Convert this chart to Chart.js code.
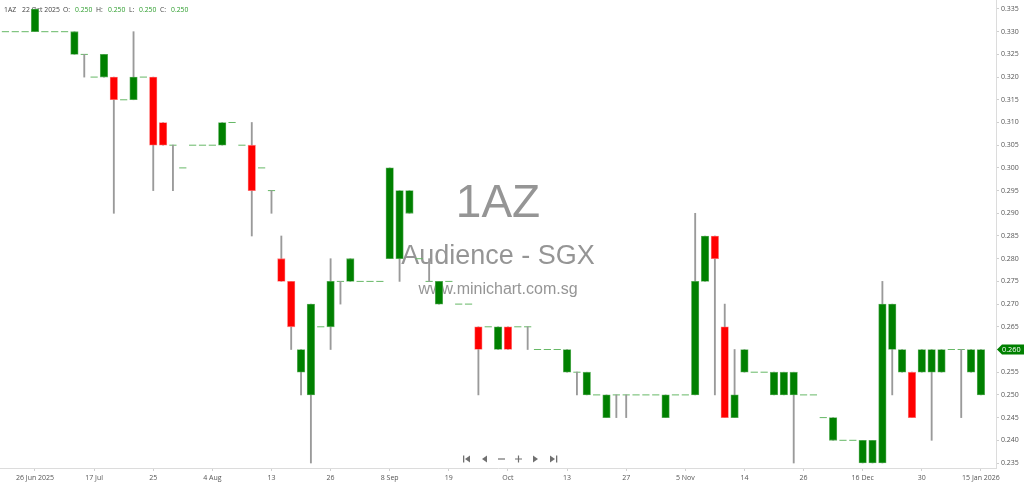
<!DOCTYPE html>
<html><head><meta charset="utf-8">
<script src="https://cdn.jsdelivr.net/npm/chart.js@4.4.1/dist/chart.umd.min.js"></script>
<style>html,body{margin:0;padding:0;background:#fff;overflow:hidden}#wrap{position:relative;width:1024px;height:484px}</style>
</head><body><div id="wrap"><canvas id="c"></canvas></div>
<script>
const symbol = '1AZ';
const company = 'Audience - SGX';
const site = 'www.minichart.com.sg';
const headerDate = '22 Oct 2025';
const headerOHLC = [0.250, 0.250, 0.250, 0.250];

const opens = [
0.330,0.330,0.330,0.330,0.330,0.330,0.330,0.325,0.325,0.320,
0.320,0.320,0.315,0.315,0.320,0.320,0.310,0.305,0.300,0.305,
0.305,0.305,0.305,0.310,0.305,0.305,0.300,0.295,0.280,0.275,
0.255,0.250,0.265,0.265,0.275,0.275,0.275,0.275,0.275,0.280,
0.280,0.290,0.280,0.275,0.270,0.275,0.270,0.270,0.265,0.265,
0.260,0.265,0.265,0.265,0.260,0.260,0.260,0.255,0.255,0.250,
0.250,0.245,0.250,0.250,0.250,0.250,0.250,0.245,0.250,0.250,
0.250,0.275,0.285,0.265,0.245,0.255,0.255,0.255,0.250,0.250,
0.250,0.250,0.250,0.245,0.240,0.240,0.240,0.235,0.235,0.235,
0.260,0.255,0.255,0.255,0.255,0.255,0.260,0.260,0.255,0.250];
const highs = [
0.330,0.330,0.330,0.335,0.330,0.330,0.330,0.330,0.325,0.320,
0.325,0.320,0.315,0.330,0.320,0.320,0.310,0.305,0.300,0.305,
0.305,0.305,0.310,0.310,0.305,0.310,0.300,0.295,0.285,0.275,
0.260,0.270,0.265,0.280,0.275,0.280,0.275,0.275,0.275,0.300,
0.295,0.295,0.280,0.280,0.275,0.275,0.270,0.270,0.265,0.265,
0.265,0.265,0.265,0.265,0.260,0.260,0.260,0.260,0.255,0.255,
0.250,0.250,0.250,0.250,0.250,0.250,0.250,0.250,0.250,0.250,
0.290,0.285,0.285,0.270,0.260,0.260,0.255,0.255,0.255,0.255,
0.255,0.250,0.250,0.245,0.245,0.240,0.240,0.240,0.240,0.275,
0.270,0.260,0.255,0.260,0.260,0.260,0.260,0.260,0.260,0.260];
const lows = [
0.330,0.330,0.330,0.330,0.330,0.330,0.330,0.325,0.320,0.320,
0.320,0.290,0.315,0.315,0.320,0.295,0.305,0.295,0.300,0.305,
0.305,0.305,0.305,0.310,0.305,0.285,0.300,0.290,0.275,0.260,
0.250,0.235,0.265,0.260,0.270,0.275,0.275,0.275,0.275,0.280,
0.275,0.290,0.280,0.275,0.270,0.275,0.270,0.270,0.250,0.265,
0.260,0.260,0.265,0.260,0.260,0.260,0.260,0.255,0.250,0.250,
0.250,0.245,0.245,0.245,0.250,0.250,0.250,0.245,0.250,0.250,
0.250,0.275,0.250,0.245,0.245,0.255,0.255,0.255,0.250,0.250,
0.235,0.250,0.250,0.245,0.240,0.240,0.240,0.235,0.235,0.235,
0.250,0.255,0.245,0.255,0.240,0.255,0.260,0.245,0.255,0.250];
const closes = [
0.330,0.330,0.330,0.335,0.330,0.330,0.330,0.330,0.325,0.320,
0.325,0.315,0.315,0.320,0.320,0.305,0.305,0.305,0.300,0.305,
0.305,0.305,0.310,0.310,0.305,0.295,0.300,0.295,0.275,0.265,
0.260,0.270,0.265,0.275,0.275,0.280,0.275,0.275,0.275,0.300,
0.295,0.295,0.280,0.275,0.275,0.275,0.270,0.270,0.260,0.265,
0.265,0.260,0.265,0.265,0.260,0.260,0.260,0.260,0.255,0.255,
0.250,0.250,0.250,0.250,0.250,0.250,0.250,0.250,0.250,0.250,
0.275,0.285,0.280,0.245,0.250,0.260,0.255,0.255,0.255,0.255,
0.255,0.250,0.250,0.245,0.245,0.240,0.240,0.240,0.240,0.270,
0.270,0.260,0.245,0.260,0.260,0.260,0.260,0.260,0.260,0.260];

const xTickIndex = [3,9,15,21,27,33,39,45,51,57,63,69,75,81,87,93,99];
const xTickLabels = ['26 Jun 2025','17 Jul','25','4 Aug','13','26','8 Sep','19','Oct','13','27','5 Nov','14','26','16 Dec','30','15 Jan 2026'];
const yTickValues = [0.235,0.240,0.245,0.250,0.255,0.260,0.265,0.270,0.275,0.280,0.285,0.290,0.295,0.300,0.305,0.310,0.315,0.320,0.325,0.330,0.335];

const UP = '#008000', DOWN = '#ff0000';
const bodyData = [], wickData = [], dojiData = [];
for (let i = 0; i < closes.length; i++) {
  if (opens[i] !== closes[i]) bodyData.push({x: i, y: [opens[i], closes[i]], up: closes[i] > opens[i]});
  else dojiData.push({x: i, y: closes[i]});
  if (highs[i] > lows[i]) wickData.push({x: i, y: [lows[i], highs[i]]});
}

const overlay = {
  id: 'overlay',
  beforeDatasetsDraw(chart) {
    const ctx = chart.ctx, a = chart.chartArea;
    const cx = (a.left + a.right) / 2;
    ctx.save();
    ctx.textAlign = 'center';
    ctx.textBaseline = 'middle';
    ctx.fillStyle = 'rgba(130,130,130,0.85)';
    ctx.font = '46px "Liberation Sans", Arial, sans-serif';
    ctx.fillText(symbol, cx, 204);
    ctx.font = '27px "Liberation Sans", Arial, sans-serif';
    ctx.fillText(company, cx, 257);
    ctx.font = '16px "Liberation Sans", Arial, sans-serif';
    ctx.fillText(site, cx, 290);
    // header
    ctx.textAlign = 'left';
    ctx.font = '6.8px "Open Sans", sans-serif';
    const dark = '#444', grn = '#2e9e2e';
    const parts = [[symbol,4,dark],[headerDate,22,dark],['O:',63,dark],[headerOHLC[0].toFixed(3),75,grn],
      ['H:',96,dark],[headerOHLC[1].toFixed(3),108,grn],['L:',129,dark],[headerOHLC[2].toFixed(3),139,grn],
      ['C:',160,dark],[headerOHLC[3].toFixed(3),171,grn]];
    parts.forEach(p => { ctx.fillStyle = p[2]; ctx.fillText(p[0], p[1], 10.5); });
    ctx.restore();
  },
  afterDraw(chart) {
    const ctx = chart.ctx, ys = chart.scales.y;
    const last = closes[closes.length - 1];
    const y = ys.getPixelForValue(last);
    const x0 = ys.left + 1;
    ctx.save();
    ctx.fillStyle = UP;
    ctx.beginPath();
    ctx.moveTo(x0, y); ctx.lineTo(x0 + 5, y - 5); ctx.lineTo(1024, y - 5);
    ctx.lineTo(1024, y + 5); ctx.lineTo(x0 + 5, y + 5); ctx.closePath(); ctx.fill();
    ctx.fillStyle = '#fff';
    ctx.font = '7.3px "Open Sans", sans-serif';
    ctx.textBaseline = 'middle';
    ctx.fillText(last.toFixed(3), x0 + 5, y + 0.5);
    // navigation icons
    const ny = 459;
    ctx.fillStyle = '#707070'; ctx.strokeStyle = '#707070'; ctx.lineWidth = 1.2;
    const tri = (xa, xb, dir) => { ctx.beginPath(); if (dir < 0) { ctx.moveTo(xa, ny); ctx.lineTo(xb, ny - 3.5); ctx.lineTo(xb, ny + 3.5); } else { ctx.moveTo(xb, ny); ctx.lineTo(xa, ny - 3.5); ctx.lineTo(xa, ny + 3.5); } ctx.closePath(); ctx.fill(); };
    ctx.fillRect(463, ny - 3.5, 1.3, 7); tri(465, 470, -1);
    tri(482, 487, -1);
    ctx.beginPath(); ctx.moveTo(498, ny); ctx.lineTo(505, ny); ctx.stroke();
    ctx.beginPath(); ctx.moveTo(515, ny); ctx.lineTo(522, ny); ctx.moveTo(518.5, ny - 3.5); ctx.lineTo(518.5, ny + 3.5); ctx.stroke();
    tri(533, 538, 1);
    tri(550, 555, 1); ctx.fillRect(556, ny - 3.5, 1.3, 7);
    ctx.restore();
  }
};

new Chart(document.getElementById('c'), {
  type: 'bar',
  data: {
    datasets: [
      {
        label: 'body', data: bodyData, grouped: false, barThickness: 7.5,
        backgroundColor: c => c.raw && c.raw.up ? UP : DOWN,
        borderColor: c => c.raw && c.raw.up ? 'rgba(80,170,80,0.9)' : 'rgba(255,110,110,0.9)',
        borderWidth: 0.8, borderSkipped: false
      },
      {
        label: 'wick', data: wickData, grouped: false, barThickness: 1.2,
        backgroundColor: '#9a9a9a', borderWidth: 0
      },
      {
        type: 'line', label: 'doji', data: dojiData, showLine: false, clip: false,
        pointStyle: 'line', pointRadius: 3.6, pointHoverRadius: 3.6,
        borderColor: '#66b866', pointBorderColor: '#66b866', pointBorderWidth: 1, borderWidth: 1
      }
    ]
  },
  options: {
    responsive: true, maintainAspectRatio: false, animation: false,
    layout: { padding: 0, autoPadding: false },
    plugins: { legend: { display: false }, tooltip: { enabled: false } },
    events: [],
    scales: {
      x: {
        type: 'linear', position: 'bottom', min: -0.552, max: 100.53, offset: false,
        afterBuildTicks: s => { s.ticks = xTickIndex.map(v => ({ value: v })); },
        afterFit: s => { s.height = 16; s.paddingLeft = 0; s.paddingRight = 0; },
        ticks: { autoSkip: false, maxRotation: 0, padding: 3, color: '#555',
          font: { family: 'Open Sans', size: 7 },
          callback: (v, i) => xTickLabels[i] },
        grid: { offset: false, drawOnChartArea: false, drawTicks: true, tickLength: 3, color: '#cfcfcf' },
        border: { color: '#dcdcdc' }
      },
      y: {
        type: 'linear', position: 'right', min: 0.23390, max: 0.33698,
        afterBuildTicks: s => { s.ticks = yTickValues.map(v => ({ value: v })); },
        afterFit: s => { s.width = 28; s.paddingTop = 0; s.paddingBottom = 0; },
        ticks: { padding: 2, color: '#555', font: { family: 'Open Sans', size: 7 },
          callback: v => Number(v).toFixed(3) },
        grid: { drawOnChartArea: false, drawTicks: true, tickLength: 3, color: '#cfcfcf' },
        border: { color: '#dcdcdc' }
      }
    }
  },
  plugins: [overlay]
});
</script></body></html>
